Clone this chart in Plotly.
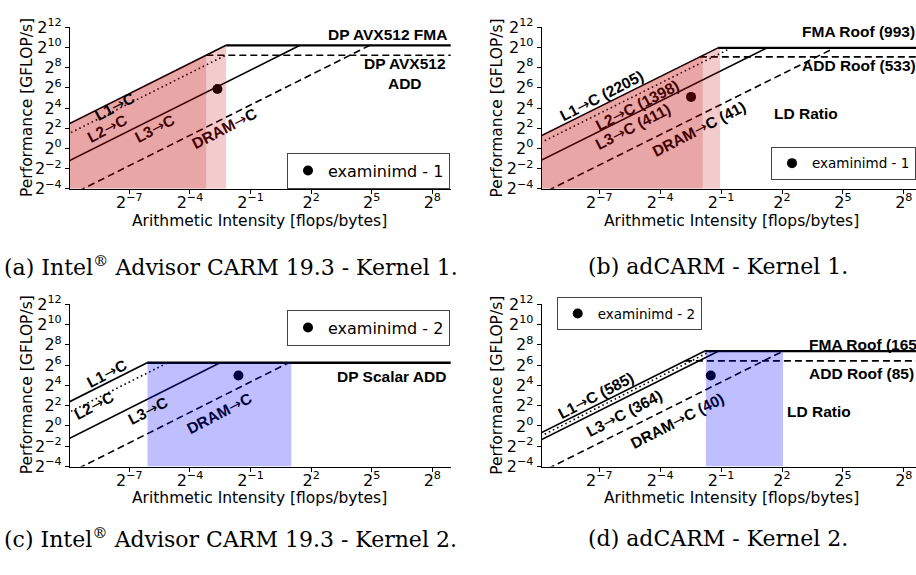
import math
import plotly.graph_objects as go

W, H = 916, 575

# ---------------- data (log2 units unless stated) ----------------
# (a) Intel Advisor CARM 19.3 - Kernel 1
a_mem_labels = ["L1→C", "L2→C", "L3→C", "DRAM→C"]
a_mem_log2 = [12.42, 11.46, 8.76, 5.30]
a_fma_log2 = 10.21
a_add_log2 = 9.23
a_point_x = [-2.64]
a_point_y = [5.89]
a_region = [-3.19, -2.21]

# (b) adCARM - Kernel 1 (GB/s and GFLOP/s)
b_mem_labels = ["L1→C", "L2→C", "L3→C", "DRAM→C"]
b_mem_gbs = [2205, 1398, 411, 41]
b_fma = 993
b_add = 533
b_point_x = [-2.48]
b_point_y = [5.10]
b_region = [-1.90, -1.05]

# (c) Intel Advisor CARM 19.3 - Kernel 2
c_mem_labels = ["L1→C", "L2→C", "L3→C", "DRAM→C"]
c_mem_log2 = [12.35, 11.33, 8.74, 5.34]
c_roof_log2 = 6.23
c_point_x = [-1.60]
c_point_y = [4.97]
c_region = [-6.10, 1.02]

# (d) adCARM - Kernel 2
d_mem_labels = ["L1→C", "L2→C", "L3→C", "DRAM→C"]
d_mem_gbs = [585, 470, 364, 40]
d_fma = 165
d_add = 85
d_point_x = [-1.51]
d_point_y = [4.97]
d_region = [-1.75, 2.05]

x_tickvals = [-7, -4, -1, 2, 5, 8]
y_tickvals = [-4, -2, 0, 2, 4, 6, 8, 10, 12]


def sup(v):
    s = str(v).replace("-", "\u2212")
    return "2<sup>" + s + "</sup>"


# ---------------- layout geometry ----------------
XL = [70 / W, 450.7 / W]
XR = [541.7 / W, 1.0]
YT = [1 - 184.6 / H, 1 - 16.8 / H]
YB = [1 - 472.8 / H, 1 - 304.3 / H]
XRANGE_L = [-9.94, 8.91]
XRANGE_R = [-9.837, 8.60]
YRANGE = [-4, 12]

fig = go.Figure()

panels = {
    "a": dict(xa="x", ya="y", xd=XL, yd=YT, xr=XRANGE_L, leg="legend"),
    "b": dict(xa="x2", ya="y2", xd=XR, yd=YT, xr=XRANGE_R, leg="legend2"),
    "c": dict(xa="x3", ya="y3", xd=XL, yd=YB, xr=XRANGE_L, leg="legend3"),
    "d": dict(xa="x4", ya="y4", xd=XR, yd=YB, xr=XRANGE_R, leg="legend4"),
}

XSTART = -10.5
XEND = 9.5
LW = 1.6
ROOFW = 2.3
DASH = "7px,4px"
DOT = "1.6px,3px"
styles = ["solid", DOT, "solid", DASH]


def add_line(p, xs, ys, dash="solid", width=LW, color="black"):
    fig.add_trace(go.Scatter(x=xs, y=ys, mode="lines", xaxis=p["xa"], yaxis=p["ya"],
                             line=dict(color=color, width=width, dash=dash),
                             showlegend=False, hoverinfo="skip"))


def add_mem(p, bw, ceiling, dash):
    xe = ceiling - bw
    add_line(p, [XSTART, xe], [XSTART + bw, ceiling], dash=dash)


def add_fill(p, region, l1, top, color):
    x0, x1 = region
    env = lambda x: min(x + l1, top)
    xs = [x0, x0]
    ys = [YRANGE[0], env(x0)]
    ridge = top - l1
    if x0 < ridge < x1:
        xs.append(ridge)
        ys.append(top)
    xs += [x1, x1]
    ys += [env(x1), YRANGE[0]]
    fig.add_trace(go.Scatter(x=xs, y=ys, mode="lines", fill="toself", fillcolor=color,
                             line=dict(width=0), xaxis=p["xa"], yaxis=p["ya"],
                             showlegend=False, hoverinfo="skip"))


def add_point(p, xs, ys, name):
    fig.add_trace(go.Scatter(x=xs, y=ys, mode="markers", name=name, xaxis=p["xa"],
                             yaxis=p["ya"], legend=p["leg"],
                             marker=dict(color="black", size=10)))


RED_D = "rgba(190,0,0,0.35)"
RED_L = "rgba(190,0,0,0.20)"
BLUE = "rgba(0,0,255,0.25)"

# ---- (a)
p = panels["a"]
add_point(p, a_point_x, a_point_y, "examinimd - 1")
ceil_a = [a_fma_log2, a_add_log2, a_fma_log2, a_fma_log2]
for bw, ce, st in zip(a_mem_log2, ceil_a, styles):
    add_mem(p, bw, ce, st)
add_line(p, [a_fma_log2 - a_mem_log2[0], XEND], [a_fma_log2, a_fma_log2], width=ROOFW)
add_line(p, [a_add_log2 - a_mem_log2[0], XEND], [a_add_log2, a_add_log2], dash=DASH)
add_fill(p, [XSTART, a_region[0]], a_mem_log2[0], a_fma_log2, RED_D)
add_fill(p, a_region, a_mem_log2[0], a_fma_log2, RED_L)

# ---- (b)
p = panels["b"]
b_mem_log2 = [math.log2(v) for v in b_mem_gbs]
b_fma_log2 = math.log2(b_fma)
b_add_log2 = math.log2(b_add)
add_point(p, b_point_x, b_point_y, "examinimd - 1")
for bw, st in zip(b_mem_log2, styles):
    add_mem(p, bw, b_fma_log2, st)
add_line(p, [b_fma_log2 - b_mem_log2[0], XEND], [b_fma_log2, b_fma_log2], width=ROOFW)
add_line(p, [b_add_log2 - b_mem_log2[0], XEND], [b_add_log2, b_add_log2], dash=DASH)
add_fill(p, [XSTART, b_region[0]], b_mem_log2[0], b_fma_log2, RED_D)
add_fill(p, b_region, b_mem_log2[0], b_fma_log2, RED_L)

# ---- (c)
p = panels["c"]
add_point(p, c_point_x, c_point_y, "examinimd - 2")
for bw, st in zip(c_mem_log2, styles):
    add_mem(p, bw, c_roof_log2, st)
add_line(p, [c_roof_log2 - c_mem_log2[0], XEND], [c_roof_log2, c_roof_log2], width=ROOFW)
add_fill(p, c_region, c_mem_log2[0], c_roof_log2, BLUE)

# ---- (d)
p = panels["d"]
d_mem_log2 = [math.log2(v) for v in d_mem_gbs]
d_fma_log2 = math.log2(d_fma)
d_add_log2 = math.log2(d_add)
add_point(p, d_point_x, d_point_y, "examinimd - 2")
for bw, st in zip(d_mem_log2, styles):
    add_mem(p, bw, d_fma_log2, st)
add_line(p, [d_fma_log2 - d_mem_log2[0], XEND], [d_fma_log2, d_fma_log2], width=ROOFW)
add_line(p, [d_add_log2 - d_mem_log2[0], XEND], [d_add_log2, d_add_log2], dash=DASH)
add_fill(p, d_region, d_mem_log2[0], d_fma_log2, BLUE)

# ---------------- axes ----------------
TICKFONT = dict(family="DejaVu Sans", size=16, color="black")
TITLEFONT = dict(family="DejaVu Sans", size=15.5, color="black")
layout_axes = {}
for i, (k, p) in enumerate(panels.items()):
    sfx = "" if i == 0 else str(i + 1)
    layout_axes["xaxis" + sfx] = dict(
        domain=p["xd"], range=p["xr"], anchor=p["ya"], showgrid=False, zeroline=False,
        showline=True, linecolor="black", linewidth=1.2, ticks="outside", ticklen=4,
        tickcolor="black", tickvals=x_tickvals, ticktext=[sup(v) for v in x_tickvals],
        tickfont=TICKFONT, ticklabelstandoff=-5)
    layout_axes["yaxis" + sfx] = dict(
        domain=p["yd"], range=YRANGE, anchor=p["xa"], showgrid=False, zeroline=False,
        showline=True, linecolor="black", linewidth=1.2, ticks="outside", ticklen=4,
        tickcolor="black", tickvals=y_tickvals, ticktext=[sup(v) for v in y_tickvals],
        tickfont=TICKFONT)


def angle_for(p):
    xppu = (p["xd"][1] - p["xd"][0]) * W / (p["xr"][1] - p["xr"][0])
    yppu = (p["yd"][1] - p["yd"][0]) * H / (YRANGE[1] - YRANGE[0])
    return -math.degrees(math.atan(yppu / xppu))


MAROON = "#430000"
NAVY = "#000040"
annots = []

# axis titles as paper annotations
xtitle_pos = [(259.5, 217.5), (731.5, 217.5), (259.5, 505.5), (731.5, 505.5)]
ytitle_pos = [(27, 100.7), (497.5, 100.7), (27, 388.5), (497.5, 388.5)]
for (xp, yp) in xtitle_pos:
    annots.append(dict(x=xp / W, y=1 - yp / H, xref="paper", yref="paper",
                       text="Arithmetic Intensity [flops/bytes]", showarrow=False,
                       xanchor="center", yanchor="middle", font=TITLEFONT))
for (xp, yp) in ytitle_pos:
    annots.append(dict(x=xp / W, y=1 - yp / H, xref="paper", yref="paper",
                       text="Performance [GFLOP/s]", showarrow=False, textangle=-90,
                       xanchor="center", yanchor="middle", font=TITLEFONT))

ARROW = "<span style='font-family:DejaVu Sans;font-weight:normal'>→</span>"


def fix_arrow(t):
    return t.replace("→", ARROW)


def lab(p, x, y, text, rot=True, xanchor="center", size=15.5, color="black"):
    annots.append(dict(x=x, y=y, xref=p["xa"], yref=p["ya"],
                       text="<b>" + fix_arrow(text) + "</b>",
                       showarrow=False, xanchor=xanchor, yanchor="middle",
                       textangle=angle_for(p) if rot else 0,
                       font=dict(family="Liberation Sans", size=size, color=color)))


def span(t, c):
    return "<span style='color:%s'>%s</span>" % (c, t)


# (a) labels
p = panels["a"]
lab(p, -7.71, 4.07, a_mem_labels[0])
lab(p, -8.10, 1.97, a_mem_labels[1], color=MAROON)
lab(p, -5.73, 1.88, a_mem_labels[2], color=MAROON)
lab(p, -2.31, 1.97, span("DRAM→", MAROON) + "C")
lab(p, 5.76, 11.30, "DP AVX512 FMA", rot=False)
lab(p, 6.65, 7.45, "DP AVX512<br>ADD", rot=False)

# (b) labels
p = panels["b"]
lab(p, -6.87, 5.22, "%s (%d)" % (b_mem_labels[0], b_mem_gbs[0]))
lab(p, -5.14, 4.18, "%s (%d)" % (b_mem_labels[1], b_mem_gbs[1]), color=MAROON)
lab(p, -5.34, 2.17, "%s (%d)" % (b_mem_labels[2], b_mem_gbs[2]), color=MAROON)
lab(p, -2.04, 1.89, span("DRAM→", MAROON) + "C (%d)" % b_mem_gbs[3])
lab(p, 2.89, 11.62, "FMA Roof (%d)" % b_fma, rot=False, xanchor="left")
lab(p, 2.89, 8.17, "ADD Roof (%d)" % b_add, rot=False, xanchor="left")
lab(p, 1.49, 3.42, "LD Ratio", rot=False, xanchor="left")

# (c) labels
p = panels["c"]
lab(p, -8.10, 5.10, c_mem_labels[0])
lab(p, -8.75, 1.96, c_mem_labels[1])
lab(p, -6.06, 1.48, c_mem_labels[2])
lab(p, -2.56, 1.20, c_mem_labels[3], color=NAVY)
lab(p, 5.96, 4.92, "DP Scalar ADD", rot=False)

# (d) labels
p = panels["d"]
lab(p, -7.16, 2.91, "%s (%d)" % (d_mem_labels[0], d_mem_gbs[0]))
lab(p, -5.78, 1.20, "%s (%d)" % (d_mem_labels[2], d_mem_gbs[2]))
lab(p, -3.13, 0.53, "DRAM→C " + span("(%d)" % d_mem_gbs[3], NAVY))
lab(p, 3.23, 7.98, "FMA Roof (%d)" % d_fma, rot=False, xanchor="left")
lab(p, 3.23, 5.19, "ADD Roof (%d)" % d_add, rot=False, xanchor="left")
lab(p, 2.15, 1.42, "LD Ratio", rot=False, xanchor="left")

# captions
CAPFONT = dict(family="DejaVu Serif", size=22, color="black")
captions = [
    ("(a) Intel<sup>®</sup> Advisor CARM 19.3 - Kernel 1.", 2 / W, 265),
    ("(b) adCARM - Kernel 1.", 586 / W, 265),
    ("(c) Intel<sup>®</sup> Advisor CARM 19.3 - Kernel 2.", 2 / W, 547),
    ("(d) adCARM - Kernel 2.", 586 / W, 547),
]
for t, x, ypx in captions:
    annots.append(dict(x=x, y=1 - ypx / H, xref="paper", yref="paper", text=t,
                       showarrow=False, xanchor="left", yanchor="middle", font=CAPFONT))


def legend_cfg(x, y, xanchor, size):
    return dict(x=x, y=y, xanchor=xanchor, yanchor="top", bgcolor="white",
                bordercolor="#444", borderwidth=1, tracegroupgap=0,
                font=dict(family="DejaVu Sans", size=size, color="black"))


fig.update_layout(
    width=W, height=H, margin=dict(l=0, r=0, t=0, b=0),
    plot_bgcolor="white", paper_bgcolor="white",
    annotations=annots,
    legend=legend_cfg(450 / W, 1 - 147 / H, "right", 16),
    legend2=legend_cfg(1.0, 1 - 141 / H, "right", 13.5),
    legend3=legend_cfg(450 / W, 1 - 310 / H, "right", 16),
    legend4=legend_cfg(556.7 / W, 1 - 297 / H, "left", 13.5),
    **layout_axes,
)

fig.write_html("out.html")
